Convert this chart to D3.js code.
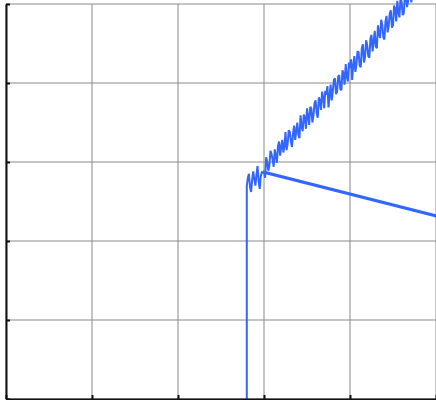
<!DOCTYPE html>
<html><head><meta charset="utf-8">
<script src="https://cdn.jsdelivr.net/npm/d3@7"></script>
<style>html,body{margin:0;padding:0;background:#fff;}svg{display:block;}</style>
</head><body>
<svg id="chart" width="436" height="400"></svg>
<script>
const xTicks = [0, 1, 2, 3, 4, 5];
const yTicks = [0, 1, 2, 3, 4, 5];
const seriesX = [2.8, 2.8, 2.8125, 2.825, 2.8375, 2.85, 2.8625, 2.875, 2.8875, 2.9, 2.9125, 2.925, 2.9375, 2.95, 2.9625, 2.975, 30,
  3.0, 3.0125, 3.025, 3.0375, 3.05, 3.0625, 3.075, 3.0875, 3.1, 3.1125, 3.125, 3.1375, 3.15, 3.1625, 3.175, 3.1875,
  3.2, 3.2125, 3.225, 3.2375, 3.25, 3.2625, 3.275, 3.2875, 3.3, 3.3125, 3.325, 3.3375, 3.35, 3.3625, 3.375, 3.3875,
  3.4, 3.4125, 3.425, 3.4375, 3.45, 3.4625, 3.475, 3.4875, 3.5, 3.5125, 3.525, 3.5375, 3.55, 3.5625, 3.575, 3.5875,
  3.6, 3.6125, 3.625, 3.6375, 3.65, 3.6625, 3.675, 3.6875, 3.7, 3.7125, 3.725, 3.7375, 3.75, 3.7625, 3.775, 3.7875,
  3.8, 3.8125, 3.825, 3.8375, 3.85, 3.8625, 3.875, 3.8875, 3.9, 3.9125, 3.925, 3.9375, 3.95, 3.9625, 3.975, 3.9875,
  4.0, 4.0125, 4.025, 4.0375, 4.05, 4.0625, 4.075, 4.0875, 4.1, 4.1125, 4.125, 4.1375, 4.15, 4.1625, 4.175, 4.1875,
  4.2, 4.2125, 4.225, 4.2375, 4.25, 4.2625, 4.275, 4.2875, 4.3, 4.3125, 4.325, 4.3375, 4.35, 4.3625, 4.375, 4.3875,
  4.4, 4.4125, 4.425, 4.4375, 4.45, 4.4625, 4.475, 4.4875, 4.5, 4.5125, 4.525, 4.5375, 4.55, 4.5625, 4.575, 4.5875,
  4.6, 4.6125, 4.625, 4.6375, 4.65, 4.6625, 4.675, 4.6875, 4.7, 4.7125, 4.725, 4.7375, 4.75];
const seriesY = [-0.30, 2.70, 2.80, 2.85, 2.68, 2.62, 2.78, 2.88, 2.78, 2.70, 2.84, 2.95, 2.76, 2.66, 2.82, 2.87, -4.60,
  2.88, 2.80, 3.06, 3.00, 2.89, 2.95, 3.14, 3.10, 3.03, 2.94, 3.16, 3.08, 2.99, 3.20, 3.26, 3.08,
  3.19, 3.28, 3.12, 3.20, 3.38, 3.15, 3.23, 3.40, 3.38, 3.26, 3.19, 3.36, 3.46, 3.28, 3.39, 3.50,
  3.34, 3.30, 3.59, 3.45, 3.39, 3.60, 3.56, 3.42, 3.68, 3.58, 3.47, 3.70, 3.68, 3.50, 3.59, 3.74,
  3.78, 3.62, 3.56, 3.82, 3.78, 3.66, 3.89, 3.82, 3.68, 3.90, 3.85, 3.96, 3.69, 3.84, 3.98, 3.78,
  3.89, 4.04, 4.06, 3.86, 3.89, 4.08, 4.10, 3.92, 3.91, 4.16, 4.12, 3.98, 4.24, 4.08, 4.02, 4.26,
  4.19, 4.30, 4.04, 4.22, 4.34, 4.14, 4.23, 4.40, 4.39, 4.22, 4.20, 4.44, 4.49, 4.26, 4.33, 4.54,
  4.48, 4.34, 4.32, 4.56, 4.61, 4.40, 4.52, 4.66, 4.46, 4.44, 4.73, 4.62, 4.57, 4.80, 4.74, 4.58,
  4.55, 4.78, 4.85, 4.64, 4.72, 4.88, 4.92, 4.70, 4.73, 4.98, 4.94, 4.78, 5.04, 4.90, 4.83, 5.08,
  5.03, 4.86, 4.88, 5.10, 5.13, 4.96, 5.03, 5.18, 5.20, 5.02, 5.12, 5.28, 5.27];

const svg = d3.select("#chart");
const x = d3.scaleLinear().domain([0, 5]).range([6, 436]);
const y = d3.scaleLinear().domain([0, 5]).range([399, 4]);

const grid = svg.append("g").attr("stroke", "#8a8a8a").attr("stroke-width", 1);
grid.selectAll("line.v").data(xTicks).join("line").attr("class", "v")
  .attr("x1", d => x(d)).attr("x2", d => x(d)).attr("y1", y(5)).attr("y2", y(0));
grid.selectAll("line.h").data(yTicks).join("line").attr("class", "h")
  .attr("y1", d => y(d)).attr("y2", d => y(d)).attr("x1", x(0)).attr("x2", x(5));

const data = seriesX.map((v, i) => [v, seriesY[i]]);
svg.append("path").datum(data)
  .attr("fill", "none").attr("stroke", "#3366ff").attr("stroke-width", 2)
  .attr("stroke-linejoin", "miter").attr("stroke-miterlimit", 2)
  .attr("d", d3.line().x(d => x(d[0])).y(d => y(d[1])));

const gx = svg.append("g").attr("transform", `translate(0,${y(0)})`)
  .call(d3.axisBottom(x).tickValues(xTicks).tickSize(-4).tickSizeOuter(0).tickFormat(""));
const gy = svg.append("g").attr("transform", `translate(${x(0)},0)`)
  .call(d3.axisLeft(y).tickValues(yTicks).tickSize(-4).tickSizeOuter(0).tickFormat(""));
[gx, gy].forEach(g => {
  g.select(".domain").attr("stroke", "#111").attr("stroke-width", 2);
  g.selectAll(".tick line").attr("stroke", "#111").attr("stroke-width", 2);
});
</script>
</body></html>
